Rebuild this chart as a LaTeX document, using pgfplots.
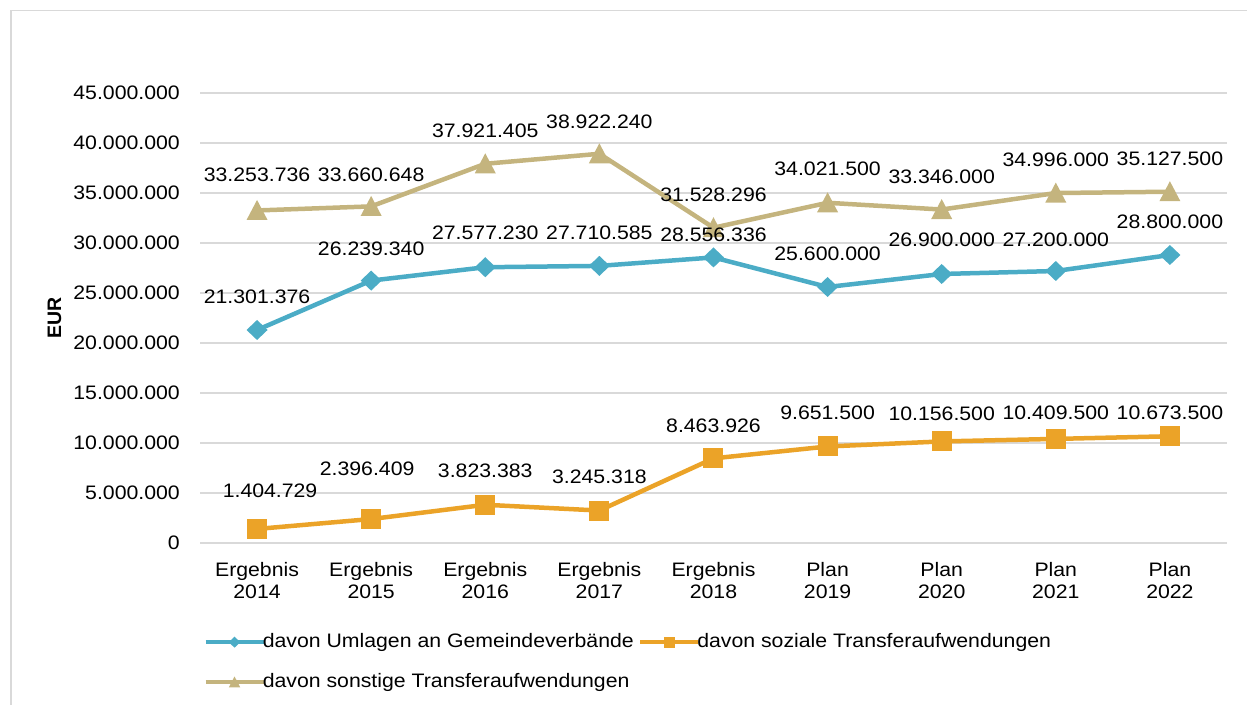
\documentclass[border=0pt]{standalone}
\usepackage{fontspec}
\setmainfont{Liberation Sans}[FakeStretch=1.09]
\newfontfamily\plainfont{Liberation Sans}
\usepackage{pgfplots}
\pgfplotsset{compat=1.18}
\usepackage{pgfplotstable}

\definecolor{cteal}{RGB}{75,172,198}
\definecolor{corange}{RGB}{235,163,40}
\definecolor{ctan}{RGB}{196,180,126}
\definecolor{cgrid}{RGB}{217,217,217}

\pgfdeclareplotmark{xdiamond}{%
  \pgfpathmoveto{\pgfqpoint{10.5pt}{0pt}}%
  \pgfpathlineto{\pgfqpoint{0pt}{10pt}}%
  \pgfpathlineto{\pgfqpoint{-10.5pt}{0pt}}%
  \pgfpathlineto{\pgfqpoint{0pt}{-10pt}}%
  \pgfpathclose\pgfusepathqfill}
\pgfdeclareplotmark{xsquare}{%
  \pgfpathrectangle{\pgfqpoint{-10pt}{-10pt}}{\pgfqpoint{20pt}{20pt}}%
  \pgfusepathqfill}
\pgfdeclareplotmark{xtriangle}{%
  \pgfpathmoveto{\pgfqpoint{-10.5pt}{-9.5pt}}%
  \pgfpathlineto{\pgfqpoint{10.5pt}{-9.5pt}}%
  \pgfpathlineto{\pgfqpoint{0pt}{10.5pt}}%
  \pgfpathclose\pgfusepathqfill}

\pgfplotstableread{
x y dx dy label
0 21301376 0 33 21.301.376
1 26239340 0 31.6 26.239.340
2 27577230 0 34 27.577.230
3 27710585 0 33 27.710.585
4 28556336 0 23 28.556.336
5 25600000 0 33 25.600.000
6 26900000 0 34 26.900.000
7 27200000 0 31 27.200.000
8 28800000 0 33 28.800.000
}\umlagen

\pgfplotstableread{
x y dx dy label
0 1404729 13 38 1.404.729
1 2396409 -4 50 2.396.409
2 3823383 0 34 3.823.383
3 3245318 0 33.5 3.245.318
4 8463926 0 33 8.463.926
5 9651500 0 33.5 9.651.500
6 10156500 0 28 10.156.500
7 10409500 0 26 10.409.500
8 10673500 0 23 10.673.500
}\sozial

\pgfplotstableread{
x y dx dy label
0 33253736 0 35.5 33.253.736
1 33660648 0 31.4 33.660.648
2 37921405 0 32.8 37.921.405
3 38922240 0 31.8 38.922.240
4 31528296 0 32.7 31.528.296
5 34021500 0 33.8 34.021.500
6 33346000 0 32.5 33.346.000
7 34996000 0 33 34.996.000
8 35127500 0 32.7 35.127.500
}\sonstige

\begin{document}
\fontsize{19.5}{22}\selectfont
\begin{tikzpicture}[x=1pt,y=1pt]
\path[use as bounding box] (0,0) rectangle (1247,704);
\draw[draw=cgrid, line width=1.5pt] (10.75,-30) rectangle (1290,693.25);
\begin{axis}[
  at={(200pt,161pt)}, anchor=south west,
  scale only axis, width=1027pt, height=450pt,
  xmin=-0.5, xmax=8.5, ymin=0, ymax=45000000,
  axis line style={draw=none},
  major tick length=0pt,
  ymajorgrids, grid style={cgrid, line width=1.3pt},
  xtick={0,...,8},
  xticklabels={{Ergebnis\\2014},{Ergebnis\\2015},{Ergebnis\\2016},{Ergebnis\\2017},{Ergebnis\\2018},{Plan\\2019},{Plan\\2020},{Plan\\2021},{Plan\\2022}},
  xticklabel style={align=center, anchor=north, inner sep=0pt, yshift=-19pt, font=\fontsize{19.5}{22}\selectfont},
  ytick={0,5000000,10000000,15000000,20000000,25000000,30000000,35000000,40000000,45000000},
  yticklabels={0,5.000.000,10.000.000,15.000.000,20.000.000,25.000.000,30.000.000,35.000.000,40.000.000,45.000.000},
  yticklabel style={anchor=east, inner sep=0pt, xshift=-20pt, font=\fontsize{19.5}{22}\selectfont},
  /pgf/number format/assume math mode=true,
  scaled y ticks=false,
  ylabel={\plainfont\bfseries EUR},
  ylabel style={at={(axis description cs:-0.1417,0.5)}, anchor=center, font=\fontsize{19.5}{22}\selectfont},
  clip=false,
  legend columns=2,
  legend cell align=left,
  legend style={at={(axis description cs:0.003,-0.201)}, anchor=north west, draw=none, fill=none, inner sep=0pt,
    font=\fontsize{19.5}{22}\selectfont,
    /tikz/every odd column/.append style={column sep=-4pt},
    /tikz/every even column/.append style={column sep=3pt},
    row sep=23pt,
    nodes={inner xsep=1pt, inner ysep=0pt}},
  legend image code/.code={%
    \draw[#1, mark=none] (0pt,0pt) -- (58pt,0pt);
    \draw[#1, mark options={scale=0.55}, line width=0pt] plot coordinates {(29pt,0pt)};},
  labelplot/.style={draw=none, mark=none, forget plot,
    point meta=explicit symbolic,
    nodes near coords,
    visualization depends on={\thisrow{dx} \as \dxx},
    visualization depends on={\thisrow{dy} \as \dyy},
    every node near coord/.append style={anchor=center, inner sep=0pt, xshift=\dxx pt, yshift=\dyy pt, text=black, font=\fontsize{19.5}{22}\selectfont}},
]
\addplot[color=cteal, line width=4.5pt, mark=xdiamond] table[x=x, y=y] {\umlagen};
\addlegendentry{davon Umlagen an Gemeindeverbände}
\addplot[color=corange, line width=4.5pt, mark=xsquare] table[x=x, y=y] {\sozial};
\addlegendentry{davon soziale Transferaufwendungen}
\addplot[color=ctan, line width=4.5pt, mark=xtriangle] table[x=x, y=y] {\sonstige};
\addlegendentry{davon sonstige Transferaufwendungen}
\addplot[labelplot] table[x=x, y=y, meta=label] {\umlagen};
\addplot[labelplot] table[x=x, y=y, meta=label] {\sozial};
\addplot[labelplot] table[x=x, y=y, meta=label] {\sonstige};
\end{axis}
\end{tikzpicture}
\end{document}
